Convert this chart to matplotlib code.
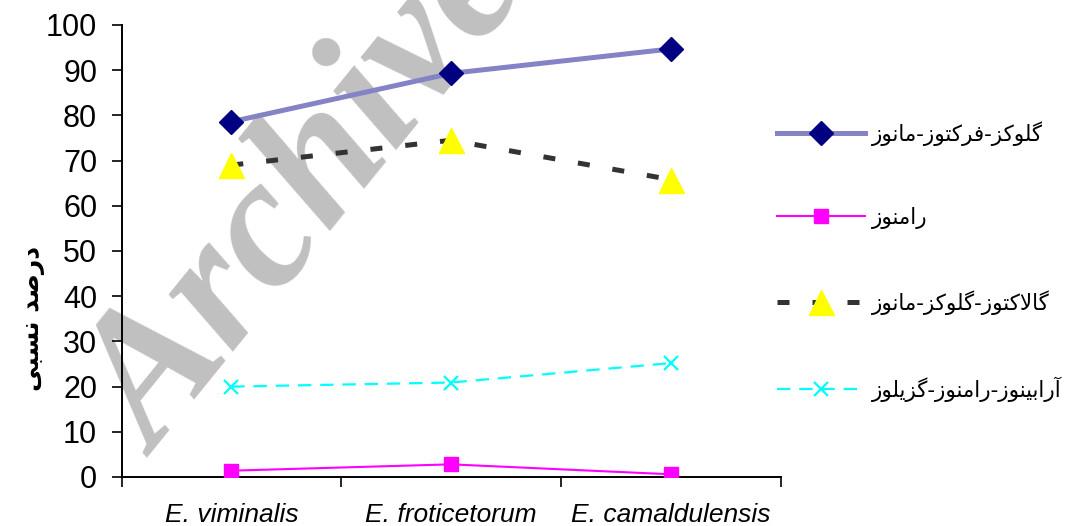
import matplotlib
matplotlib.use("Agg")
import matplotlib.pyplot as plt

# ---- data -------------------------------------------------------------
species = ["E. viminalis", "E. froticetorum", "E. camaldulensis"]
glc_fru_man = [78.6, 89.3, 94.7]
rhamnose = [1.4, 2.8, 0.6]
gal_glc_man = [69.0, 74.5, 65.8]
ara_rha_xyl = [20.0, 20.9, 25.2]

series_names = [
    "گلوکز-فرکتوز-مانوز",
    "رامنوز",
    "گالاکتوز-گلوکز-مانوز",
    "آرابینوز-رامنوز-گزیلوز",
]
y_label = "درصد نسبی"
y_ticks = list(range(0, 101, 10))
watermark = "Archive"

# ---- minimal Arabic-script shaping for a renderer without CTL support ----
_RIGHT = {  # isolated, final
    "ا": ("\uFE8D", "\uFE8E"), "آ": ("\uFE81", "\uFE82"),
    "د": ("\uFEA9", "\uFEAA"), "ر": ("\uFEAD", "\uFEAE"),
    "ز": ("\uFEAF", "\uFEB0"), "و": ("\uFEED", "\uFEEE"),
}
_DUAL = {  # isolated, final, initial, medial
    "ب": ("\uFE8F", "\uFE90", "\uFE91", "\uFE92"),
    "ت": ("\uFE95", "\uFE96", "\uFE97", "\uFE98"),
    "س": ("\uFEB1", "\uFEB2", "\uFEB3", "\uFEB4"),
    "ص": ("\uFEB9", "\uFEBA", "\uFEBB", "\uFEBC"),
    "ف": ("\uFED1", "\uFED2", "\uFED3", "\uFED4"),
    "ل": ("\uFEDD", "\uFEDE", "\uFEDF", "\uFEE0"),
    "م": ("\uFEE1", "\uFEE2", "\uFEE3", "\uFEE4"),
    "ن": ("\uFEE5", "\uFEE6", "\uFEE7", "\uFEE8"),
    "ی": ("\uFBFC", "\uFBFD", "\uFBFE", "\uFBFF"),
    "ک": ("\uFB8E", "\uFB8F", "\uFB90", "\uFB91"),
    "گ": ("\uFB92", "\uFB93", "\uFB94", "\uFB95"),
}
_LAM_ALEF = {"ا": ("\uFEFB", "\uFEFC"), "آ": ("\uFEF5", "\uFEF6")}


def shape_rtl(text):
    out = []
    i, n = 0, len(text)
    while i < n:
        c = text[i]
        prev_joins = i > 0 and text[i - 1] in _DUAL
        if c == "ل" and i + 1 < n and text[i + 1] in _LAM_ALEF:
            out.append(_LAM_ALEF[text[i + 1]][1 if prev_joins else 0])
            i += 2
            continue
        if c in _DUAL:
            next_joins = i + 1 < n and (text[i + 1] in _DUAL or text[i + 1] in _RIGHT)
            idx = {(False, False): 0, (True, False): 1,
                   (False, True): 2, (True, True): 3}[(prev_joins, next_joins)]
            out.append(_DUAL[c][idx])
        elif c in _RIGHT:
            out.append(_RIGHT[c][1 if prev_joins else 0])
        else:
            out.append(c)
        i += 1
    return "".join(reversed(out))


# ---- figure -----------------------------------------------------------
W, H = 1072, 526
fig = plt.figure(figsize=(W / 100, H / 100), dpi=100)
ax = fig.add_axes([121.5 / W, (H - 477) / H, 659 / W, 452 / H])

x = [i + 0.5 for i in range(len(species))]

l1, = ax.plot(x, glc_fru_man, color="#8383C6", lw=3.6, marker="D", ms=12.5,
              mfc="#000080", mec="#000080", zorder=4)
l2, = ax.plot(x, rhamnose, color="#FF00FF", lw=1.5, marker="s", ms=9.5,
              mfc="#FF00FF", mec="#FF00FF", zorder=4)
l3, = ax.plot(x, gal_glc_man, color="#333333", lw=3.6, ls=(0, (2.4, 4.6)),
              dash_capstyle="butt", marker="^", ms=18, mfc="#FFFF00",
              mec="#FFFF00", zorder=4)
l4, = ax.plot(x, ara_rha_xyl, color="#00FFFF", lw=1.6, ls=(0, (6.0, 4.0)),
              dash_capstyle="butt", marker="x", ms=10, mew=1.6, zorder=4)

ax.set_xlim(0, len(species))
ax.set_ylim(0, 100)
ax.set_yticks(y_ticks)
ax.set_xticks(range(len(species) + 1))
ax.set_xticklabels([])
ax.set_xticks(x, minor=True)
ax.set_xticklabels(species, minor=True, fontsize=19, style="italic",
                   family="Liberation Sans")
ax.tick_params(axis="x", which="major", direction="out", length=7, width=1.2)
ax.tick_params(axis="x", which="minor", length=0, pad=19)
ax.tick_params(axis="y", direction="out", length=7.5, width=1.2, pad=10,
               labelsize=22)
for lab in ax.get_yticklabels():
    lab.set_family("Liberation Sans")

for side in ("top", "right"):
    ax.spines[side].set_visible(False)
for side in ("left", "bottom"):
    ax.spines[side].set_linewidth(1.4)

# y-axis title
fig.text(33 / W, 1 - 318 / H, shape_rtl(y_label), rotation=90,
         ha="center", va="center", fontsize=18, fontweight="bold",
         family="DejaVu Sans")

# diagonal watermark, underneath the data
ax.text(157 / W, 1 - 458 / H, watermark, transform=fig.transFigure,
        rotation=51, rotation_mode="anchor", ha="left", va="baseline",
        fontsize=134, fontweight="bold", style="italic",
        family="Liberation Serif", color="#C0C0C0", zorder=1, clip_on=False)

# legend on the right
handles = [l1, l2, l3, l4]
ax.legend(handles, [shape_rtl(s) for s in series_names],
          loc="upper left", bbox_to_anchor=(777 / W, 1 - 121 / H),
          bbox_transform=fig.transFigure, frameon=False,
          prop={"family": "DejaVu Sans", "size": 15.5},
          handlelength=4.1, handletextpad=0.3, labelspacing=2.85,
          numpoints=1, borderpad=0, borderaxespad=0)

fig.savefig("out.png", dpi=100)
